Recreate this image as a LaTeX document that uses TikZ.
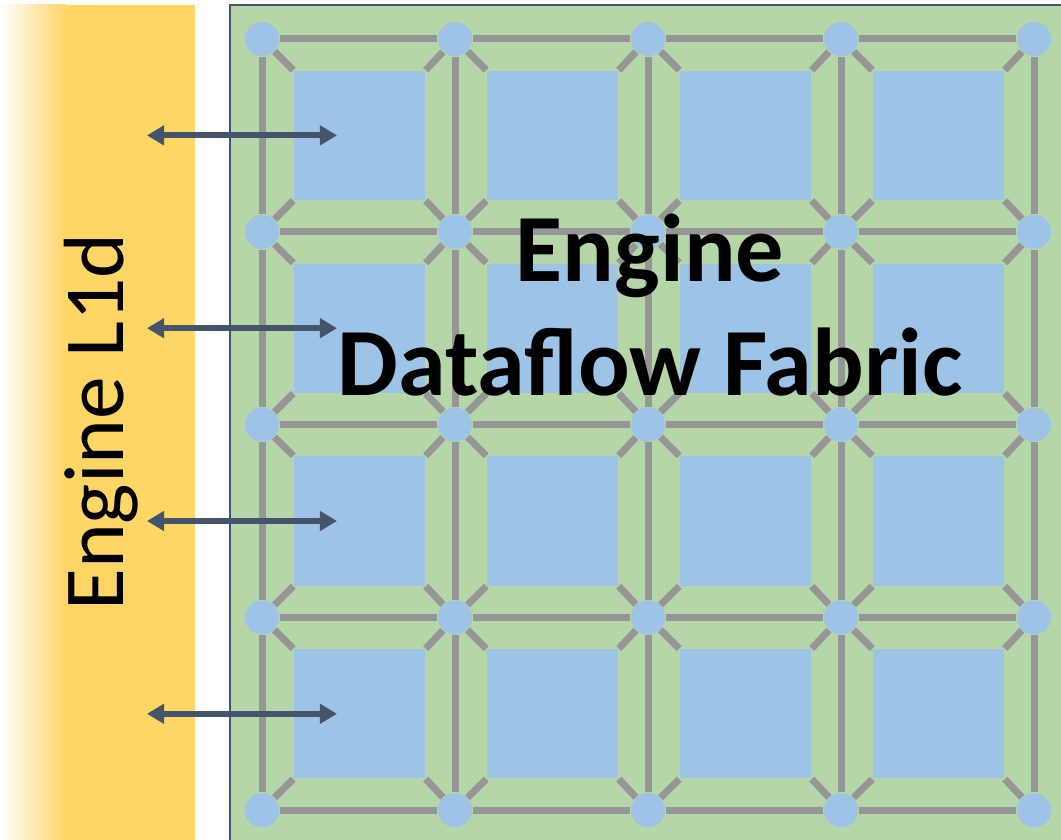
\documentclass[tikz,border=0pt]{standalone}
\usepackage{fontspec}
\setmainfont{Carlito}
\usetikzlibrary{calc,arrows.meta}

\definecolor{fabricgreen}{RGB}{181,215,168}
\definecolor{peblue}{RGB}{157,195,230}
\definecolor{linkgray}{RGB}{150,150,150}
\definecolor{l1yellow}{RGB}{253,214,102}
\definecolor{portblue}{RGB}{68,84,106}

\begin{document}
\begin{tikzpicture}[
    x=0.01cm, y=-0.01cm,
    >={Triangle[length=0.17cm,width=0.19cm]},
    link/.style={draw=linkgray, line width=0.07cm},
    router/.style={circle, fill=peblue, minimum size=0.34cm, inner sep=0pt},
    pe/.style={rectangle, fill=peblue, minimum width=1.31cm, minimum height=1.29cm, inner sep=0pt},
    port/.style={<->, draw=portblue, line width=0.06cm}
  ]
  \useasboundingbox (0,0) rectangle (1061,840);

  \def\GX{262}     % first router, x
  \def\GY{39}      % first router, y
  \def\dX{193}
  \def\dY{192.8}

  % L1d bar
  \shade[left color=white, right color=l1yellow] (0,5) rectangle (66,840);
  \fill[l1yellow] (65,5) rectangle (195,840);
  \node[rotate=90, anchor=base, inner sep=0pt,
    font=\fontsize{24.3}{29}\selectfont] (l1d) at (123,422) {Engine L1d};

  % fabric background
  \fill[fabricgreen, draw=portblue, line width=0.02cm] (230,5) rectangle (1090,870);

  % routers
  \foreach \i in {0,...,4}
    \foreach \j in {0,...,4}
      \node[router] (r-\i-\j) at (\GX+\i*\dX, \GY+\j*\dY) {};

  % processing elements
  \foreach \i in {0,...,3}
    \foreach \j in {0,...,3}
      \node[pe] (pe-\i-\j) at (\GX+\i*\dX+\dX/2+1, \GY+\j*\dY+\dY/2) {};

  % mesh links
  \foreach \i in {0,...,4}
    \foreach \j [count=\jj] in {0,...,3} {
      \draw[link] (r-\i-\j) -- (r-\i-\jj);
      \draw[link] (r-\j-\i) -- (r-\jj-\i);
    }

  % router to PE links
  \foreach \i [count=\ii] in {0,...,3}
    \foreach \j [count=\jj] in {0,...,3} {
      \draw[link] (r-\i-\j) -- (pe-\i-\j.north west);
      \draw[link] (r-\ii-\j) -- (pe-\i-\j.north east);
      \draw[link] (r-\i-\jj) -- (pe-\i-\j.south west);
      \draw[link] (r-\ii-\jj) -- (pe-\i-\j.south east);
    }

  % L1d ports
  \foreach \j in {0,...,3} {
    \coordinate (p-\j) at (147, \GY+\j*\dY+\dY/2);
    \draw[port] (p-\j) -- ([xshift=-0.225cm]pe-0-\j.center);
  }

  \node[font=\bfseries\fontsize{27.4}{32.4}\selectfont, align=center,
    anchor=south, inner sep=0pt] (fabric) at (650,397) {Engine\\Dataflow Fabric};
\end{tikzpicture}
\end{document}
